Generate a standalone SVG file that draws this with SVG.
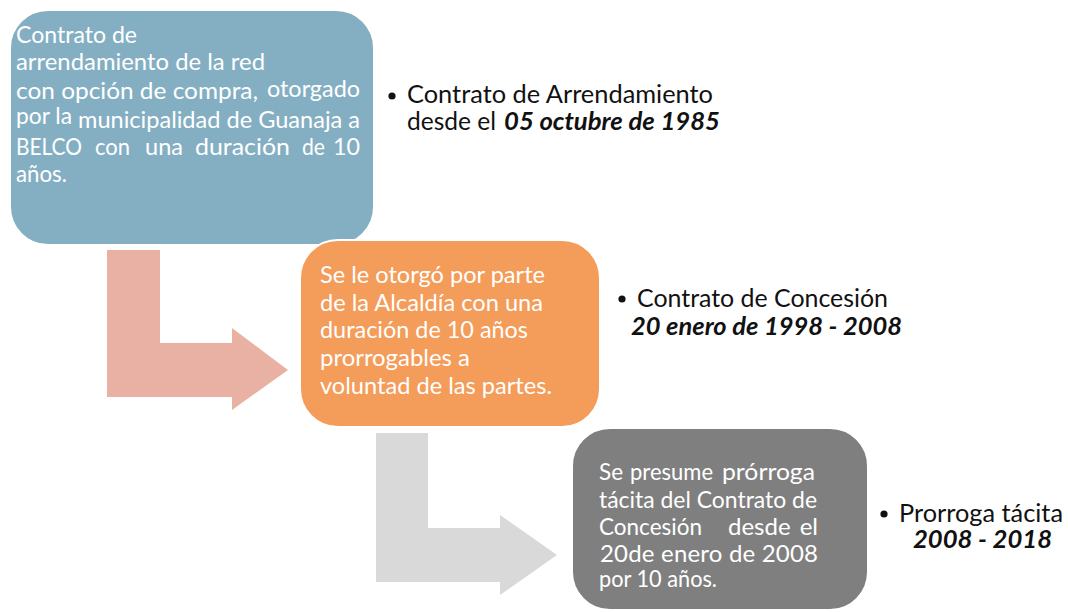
<svg xmlns="http://www.w3.org/2000/svg" width="1068" height="612" viewBox="0 0 1068 612">
  <style>
    .box { stroke: #ffffff; stroke-width: 2; }
    .wt { font-family: Lato, "Liberation Sans", sans-serif; font-size: 24px; fill: #ffffff; }
    .bt { font-family: Lato, "Liberation Sans", sans-serif; font-size: 25.5px; fill: #111111; }
    .bi { font-weight: bold; font-style: italic; }
    .dot { fill: #111111; }
  </style>
  <rect width="1068" height="612" fill="#ffffff"/>
  <g id="connectors">
    <polygon id="arrow1" points="107,250 160,250 160,343 232,343 232,328 288,370 232,410 232,397 107,397" fill="#E9B1A3"/>
    <polygon id="arrow2" points="376,433 428,433 428,528 500,528 500,515 557,555 500,595 500,582 376,582" fill="#D9D9D9"/>
  </g>
  <g id="box1">
    <rect class="box" x="10" y="10" width="364" height="235" rx="38" fill="#84AFC3"/>
    <text class="wt" x="16" y="43" textLength="121" lengthAdjust="spacingAndGlyphs">Contrato de</text>
    <text class="wt" x="16" y="70" textLength="249" lengthAdjust="spacingAndGlyphs">arrendamiento  de la red</text>
    <text class="wt" x="16" y="99" textLength="242" lengthAdjust="spacingAndGlyphs">con opción de compra,</text>
    <text class="wt" x="267" y="97" font-size="22" textLength="93" lengthAdjust="spacingAndGlyphs">otorgado</text>
    <text class="wt" x="16" y="124" font-size="22" textLength="56" lengthAdjust="spacingAndGlyphs">por la</text>
    <text class="wt" x="78" y="128" textLength="282" lengthAdjust="spacingAndGlyphs">municipalidad de Guanaja a</text>
    <text class="wt" x="16" y="155" textLength="66" lengthAdjust="spacingAndGlyphs">BELCO</text>
    <text class="wt" x="95" y="155" textLength="35" lengthAdjust="spacingAndGlyphs">con</text>
    <text class="wt" x="145" y="155" textLength="38" lengthAdjust="spacingAndGlyphs">una</text>
    <text class="wt" x="195" y="155" textLength="95" lengthAdjust="spacingAndGlyphs">duración</text>
    <text class="wt" x="302" y="155" textLength="23" lengthAdjust="spacingAndGlyphs">de</text>
    <text class="wt" x="333" y="155" textLength="27" lengthAdjust="spacingAndGlyphs">10</text>
    <text class="wt" x="16" y="182" textLength="51" lengthAdjust="spacingAndGlyphs">años.</text>
  </g>
  <g id="box2">
    <rect class="box" x="300" y="240" width="300" height="187" rx="38" fill="#F49C5A"/>
    <text class="wt" x="320" y="283" textLength="225" lengthAdjust="spacingAndGlyphs">Se le otorgó por parte</text>
    <text class="wt" x="320" y="311" textLength="223" lengthAdjust="spacingAndGlyphs">de la Alcaldía con una</text>
    <text class="wt" x="320" y="338" textLength="208" lengthAdjust="spacingAndGlyphs">duración de 10 años</text>
    <text class="wt" x="320" y="366" textLength="150" lengthAdjust="spacingAndGlyphs">prorrogables  a</text>
    <text class="wt" x="320" y="394" textLength="232" lengthAdjust="spacingAndGlyphs">voluntad de las partes.</text>
  </g>
  <g id="box3">
    <rect class="box" x="572" y="428" width="296" height="182" rx="38" fill="#7F7F7F"/>
    <text class="wt" x="599" y="480" textLength="24" lengthAdjust="spacingAndGlyphs">Se</text>
    <text class="wt" x="630" y="480" textLength="83" lengthAdjust="spacingAndGlyphs">presume</text>
    <text class="wt" x="722" y="480" textLength="93" lengthAdjust="spacingAndGlyphs">prórroga</text>
    <text class="wt" x="599" y="508" textLength="218" lengthAdjust="spacingAndGlyphs">tácita del Contrato de</text>
    <text class="wt" x="599" y="535" textLength="103" lengthAdjust="spacingAndGlyphs">Concesión</text>
    <text class="wt" x="728" y="535">desde</text>
    <text class="wt" x="818" y="535" text-anchor="end">el</text>
    <text class="wt" x="600" y="562" font-size="23" textLength="218" lengthAdjust="spacing">20de enero de 2008</text>
    <text class="wt" x="599" y="587" textLength="118" lengthAdjust="spacingAndGlyphs">por 10 años.</text>
  </g>
  <g id="note1">
    <circle class="dot" cx="392" cy="96" r="3.6"/>
    <text class="bt" x="407" y="103" textLength="306" lengthAdjust="spacingAndGlyphs">Contrato de Arrendamiento</text>
    <text class="bt" x="407" y="130" textLength="89" lengthAdjust="spacingAndGlyphs">desde el</text>
    <text class="bt bi" x="504" y="130" textLength="216" lengthAdjust="spacingAndGlyphs">05 octubre de 1985</text>
  </g>
  <g id="note2">
    <circle class="dot" cx="622" cy="299" r="3.6"/>
    <text class="bt" x="637" y="307" textLength="251" lengthAdjust="spacingAndGlyphs">Contrato de Concesión</text>
    <text class="bt bi" x="631" y="335" textLength="271" lengthAdjust="spacingAndGlyphs">20 enero de 1998 - 2008</text>
  </g>
  <g id="note3">
    <circle class="dot" cx="884" cy="514" r="3.6"/>
    <text class="bt" x="899" y="522" textLength="164" lengthAdjust="spacingAndGlyphs">Prorroga tácita</text>
    <text class="bt bi" x="913" y="548" textLength="139" lengthAdjust="spacingAndGlyphs">2008 -  2018</text>
  </g>
</svg>
